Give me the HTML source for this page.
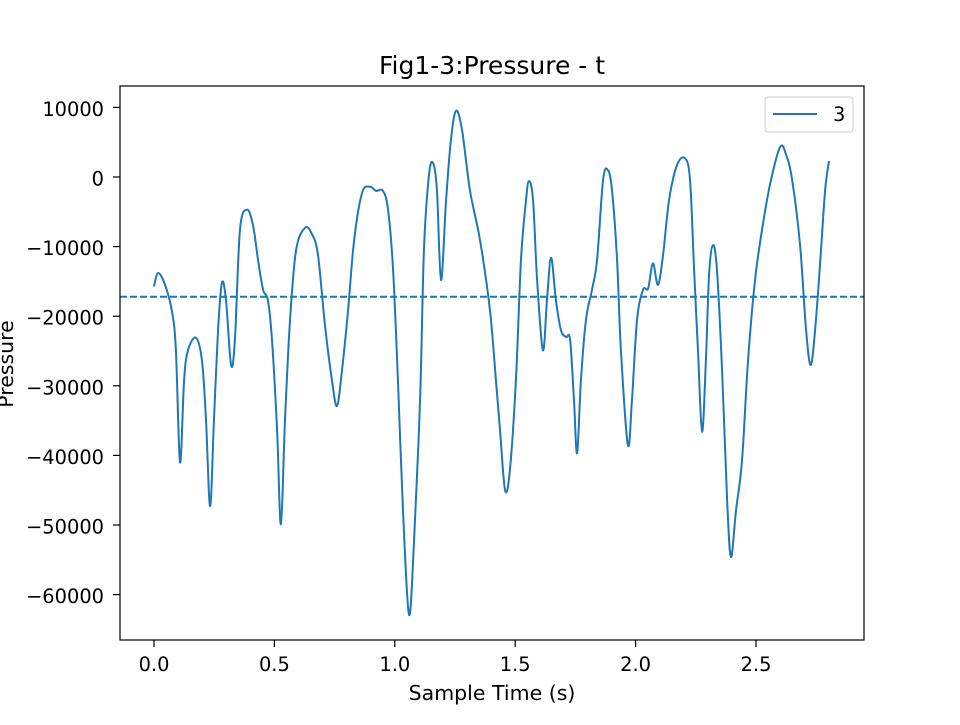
<!DOCTYPE html>
<html><head><meta charset="utf-8"><style>
html,body{margin:0;padding:0;background:#fff;}
svg text{font-family:"DejaVu Sans","Liberation Sans",sans-serif;}
</style></head><body>
<svg id="chart" width="960" height="720" viewBox="0 0 960 720" xmlns="http://www.w3.org/2000/svg">
<rect width="960" height="720" fill="#fff"/>
<text x="492" y="74" font-size="25" text-anchor="middle" fill="#000">Fig1-3:Pressure - t</text>
<g id="ticks"></g>
<g id="plot"></g>
<rect x="120" y="86" width="744" height="554" fill="none" stroke="#000" stroke-width="1.2"/>
<text x="492" y="700" font-size="20.5" text-anchor="middle">Sample Time (s)</text>
<text transform="translate(13,364) rotate(-90)" font-size="20.5" text-anchor="middle">Pressure</text>
<g>
<rect x="765" y="97" width="88" height="35" rx="3" fill="#fff" stroke="#ccc"/>
<line x1="773" y1="114" x2="817" y2="114" stroke="#1f77b4" stroke-width="2"/>
<text x="833" y="121" font-size="19.4">3</text>
</g>
</svg>
<script>
const times=[0,.017,.046,.075,.091,.108,.125,.141,.174,.199,.216,.233,.249,.266,.282,.299,.320,.336,.357,.386,.411,.432,.453,.473,.490,.511,.527,.544,.565,.590,.627,.656,.681,.710,.739,.760,.781,.806,.831,.864,.897,.922,.951,.972,.993,1.013,1.034,1.059,1.080,1.105,1.121,1.142,1.159,1.175,1.192,1.213,1.233,1.254,1.279,1.312,1.354,1.395,1.420,1.437,1.458,1.478,1.503,1.524,1.545,1.557,1.574,1.591,1.615,1.632,1.649,1.669,1.690,1.711,1.728,1.744,1.757,1.773,1.794,1.819,1.840,1.865,1.885,1.902,1.923,1.939,1.968,1.985,2.006,2.031,2.052,2.072,2.093,2.114,2.139,2.172,2.205,2.226,2.243,2.259,2.276,2.292,2.305,2.321,2.338,2.359,2.380,2.396,2.417,2.442,2.467,2.496,2.525,2.558,2.600,2.625,2.650,2.683,2.708,2.728,2.749,2.770,2.787,2.803];
const pressure=[-15700,-13800,-15500,-19400,-24900,-41000,-29200,-24900,-23100,-26300,-34900,-47300,-34900,-22000,-15200,-17700,-27000,-23400,-7600,-4700,-6900,-11900,-16200,-17700,-23400,-36300,-49900,-34900,-20500,-10500,-7300,-8200,-11200,-21300,-29200,-32900,-27700,-19100,-9100,-2300,-1400,-2000,-2000,-4700,-13400,-29200,-47900,-62900,-52200,-32000,-10500,300,2000,-1900,-14800,-3300,5300,9500,6800,-1900,-9100,-19100,-29200,-36400,-45000,-42100,-29200,-11900,-3300,-600,-3300,-14800,-24900,-17700,-11600,-17700,-22000,-23000,-23400,-32000,-39700,-29200,-20500,-16200,-11900,-400,1000,-1900,-11900,-24900,-38500,-32000,-20500,-16200,-16000,-12400,-15500,-11200,-3300,1700,2700,-400,-13400,-24900,-36600,-26300,-14100,-9800,-13400,-27700,-46400,-54600,-47900,-40700,-26300,-14800,-7600,-1100,4300,3200,-400,-9800,-22000,-27000,-20500,-10500,-1900,2300];
const meanValue=-17200;
const xTicks=[0,0.5,1.0,1.5,2.0,2.5];
const xTickLabels=["0.0","0.5","1.0","1.5","2.0","2.5"];
const yTicks=[10000,0,-10000,-20000,-30000,-40000,-50000,-60000];
const yTickLabels=["10000","0","\u221210000","\u221220000","\u221230000","\u221240000","\u221250000","\u221260000"];

const X=t=>154+t*240.8;
const Y=v=>177-v*0.00696;
const NS="http://www.w3.org/2000/svg";
const tg=document.getElementById('ticks'), pg=document.getElementById('plot');
function mk(tag,attrs,parent){const e=document.createElementNS(NS,tag);for(const k in attrs)e.setAttribute(k,attrs[k]);parent.appendChild(e);return e;}
xTicks.forEach((t,i)=>{
  const l=mk('line',{x1:X(t),x2:X(t),y1:640,y2:647,stroke:'#000','stroke-width':1.2},tg);
  
  
  const tx=mk('text',{x:X(t),y:671,'font-size':19.4,'text-anchor':'middle'},tg);
  tx.textContent=xTickLabels[i];
  
  
});
yTicks.forEach((v,i)=>{
  const l=mk('line',{x1:113,x2:120,y1:Y(v),y2:Y(v),stroke:'#000','stroke-width':1.2},tg);
  
  
  const tx=mk('text',{x:104,y:Y(v)+8.5,'font-size':19.4,'text-anchor':'end'},tg);
  tx.textContent=yTickLabels[i];
  
  
});
const pts=times.map((t,i)=>[X(t),Y(pressure[i])]);
let d='M'+pts[0][0]+','+pts[0][1];
for(let i=0;i<pts.length-1;i++){
  const p0=pts[Math.max(0,i-1)],p1=pts[i],p2=pts[i+1],p3=pts[Math.min(pts.length-1,i+2)];
  const c1=[p1[0]+(p2[0]-p0[0])/6,p1[1]+(p2[1]-p0[1])/6];
  const c2=[p2[0]-(p3[0]-p1[0])/6,p2[1]-(p3[1]-p1[1])/6];
  d+=' C'+c1[0]+','+c1[1]+' '+c2[0]+','+c2[1]+' '+p2[0]+','+p2[1];
}
const path=mk('path',{d:d,fill:'none',stroke:'#1f77b4','stroke-width':2,'stroke-linejoin':'round'},pg);


const ml=mk('line',{x1:120,x2:864,y1:Y(meanValue),y2:Y(meanValue),stroke:'#1f77b4','stroke-width':2,'stroke-dasharray':'7,3'},pg);


</script>
</body></html>
